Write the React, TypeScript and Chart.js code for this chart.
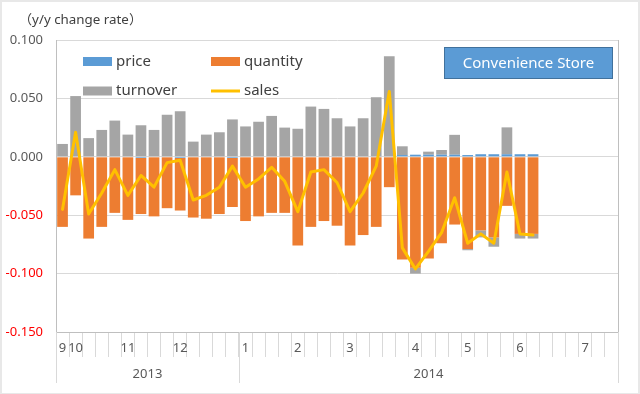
import { useEffect, useRef } from 'react';
import { Chart, registerables } from 'chart.js';

Chart.register(...registerables);

const monthLabels = ['9', '10', '', '', '', '11', '', '', '', '12', '', '', '', '', '1', '', '', '', '2', '', '', '', '3', '', '', '', '', '4', '', '', '', '5', '', '', '', '6', '', '', '', '', '7', '', ''];
const yearLabels = ['2013', '2014'];
const yearSpans = [14, 29];

const price = [0, 0, 0, 0, 0, 0, -0.001, 0, 0, -0.001, 0, 0, 0, -0.001, 0, 0, 0, 0, 0, 0, 0, 0, 0, 0, 0, 0, 0.0015, 0.0018, 0.0018, 0.0018, 0.0018, 0.0015, 0.0022, 0.0022, 0.0022, 0.0022, 0.0022, null, null, null, null, null, null];
const quantity = [-0.060, -0.033, -0.070, -0.060, -0.048, -0.054, -0.048, -0.051, -0.044, -0.045, -0.052, -0.053, -0.049, -0.042, -0.055, -0.051, -0.048, -0.048, -0.076, -0.060, -0.055, -0.059, -0.076, -0.067, -0.060, -0.026, -0.088, -0.095, -0.087, -0.074, -0.058, -0.079, -0.063, -0.069, -0.042, -0.066, -0.066, null, null, null, null, null, null];
const turnover = [0.011, 0.052, 0.016, 0.023, 0.031, 0.019, 0.027, 0.023, 0.036, 0.039, 0.013, 0.019, 0.021, 0.032, 0.026, 0.030, 0.035, 0.025, 0.024, 0.043, 0.041, 0.033, 0.026, 0.033, 0.051, 0.086, 0.0075, -0.005, 0.0026, 0.004, 0.017, -0.001, -0.006, -0.008, 0.023, -0.004, -0.004, null, null, null, null, null, null];
const sales = [-0.045, 0.021, -0.049, -0.031, -0.011, -0.033, -0.016, -0.026, -0.005, -0.003, -0.037, -0.033, -0.026, -0.008, -0.026, -0.019, -0.009, -0.021, -0.047, -0.013, -0.011, -0.022, -0.047, -0.031, -0.008, 0.056, -0.078, -0.096, -0.081, -0.065, -0.035, -0.074, -0.066, -0.074, -0.013, -0.066, -0.067, null, null, null, null, null, null];

const seriesNames = ['price', 'quantity', 'turnover', 'sales'];
const seriesColors = ['#5B9BD5', '#ED7D31', '#A5A5A5', '#FFC000'];
const titleText = '（y/y change rate）';
const boxText = 'Convenience Store';

const FONT = '"Noto Sans", "Noto Sans CJK JP", sans-serif';

const decorPlugin = {
  id: 'decor',
  beforeDraw(chart: any) {
    const { ctx, width, height } = chart;
    ctx.save();
    ctx.fillStyle = '#E8E8E8';
    ctx.fillRect(0, 0, width, height);
    ctx.fillStyle = '#FFFFFF';
    ctx.fillRect(2, 2, width - 4, height - 3);
    ctx.restore();
  },
  afterDraw(chart: any) {
    const { ctx, chartArea } = chart;
    const { left, right, top, bottom } = chartArea;
    ctx.save();
    // right border
    ctx.strokeStyle = '#BFBFBF';
    ctx.lineWidth = 1;
    ctx.beginPath();
    ctx.moveTo(Math.round(right) + 0.5, top);
    ctx.lineTo(Math.round(right) + 0.5, bottom);
    ctx.stroke();

    // year separators and labels
    const total = monthLabels.length;
    const cw = (right - left) / total;
    let start = 0;
    const bounds: number[] = [0];
    yearSpans.forEach((s) => { start += s; bounds.push(start); });
    ctx.strokeStyle = '#D9D9D9';
    bounds.forEach((b) => {
      const x = Math.round(left + b * cw) + 0.5;
      ctx.beginPath();
      ctx.moveTo(x, bottom);
      ctx.lineTo(x, bottom + 51);
      ctx.stroke();
    });
    ctx.fillStyle = '#595959';
    ctx.font = `13px ${FONT}`;
    ctx.textAlign = 'center';
    ctx.textBaseline = 'middle';
    yearLabels.forEach((lab, i) => {
      const cx = left + ((bounds[i] + bounds[i + 1]) / 2) * cw;
      ctx.fillText(lab, cx, bottom + 42);
    });

    // title: align ink to span 28..133
    ctx.textAlign = 'left';
    ctx.font = `13px ${FONT}`;
    ctx.fillStyle = '#404040';
    const m = ctx.measureText(titleText);
    const inkW = m.actualBoundingBoxLeft + m.actualBoundingBoxRight;
    const sx = inkW > 0 ? 105 / inkW : 1;
    ctx.save();
    ctx.translate(28, 20);
    ctx.scale(sx, 1);
    ctx.fillText(titleText, m.actualBoundingBoxLeft, 0);
    ctx.restore();

    // legend
    ctx.font = `15px ${FONT}`;
    const items = [
      { x: 83, y: 61.5 },
      { x: 211, y: 61.5 },
      { x: 83, y: 91 },
      { x: 211, y: 91 },
    ];
    items.forEach((it, i) => {
      ctx.fillStyle = seriesColors[i];
      if (i === 3) {
        ctx.strokeStyle = seriesColors[i];
        ctx.lineWidth = 3;
        ctx.beginPath();
        ctx.moveTo(it.x, it.y);
        ctx.lineTo(it.x + 29, it.y);
        ctx.stroke();
      } else {
        ctx.fillRect(it.x, it.y - 4.5, 29, 9);
      }
      ctx.fillStyle = '#404040';
      ctx.fillText(seriesNames[i], it.x + 33, it.y);
    });

    // store box
    ctx.fillStyle = '#5B9BD5';
    ctx.fillRect(444, 47, 169, 32);
    ctx.strokeStyle = '#41719C';
    ctx.lineWidth = 1;
    ctx.strokeRect(444.5, 47.5, 168, 31);
    ctx.fillStyle = '#FFFFFF';
    ctx.font = `15px ${FONT}`;
    ctx.textAlign = 'center';
    ctx.fillText(boxText, 528.5, 63.5);
    ctx.restore();
  },
};

export default function App() {
  const ref = useRef<HTMLCanvasElement>(null);
  useEffect(() => {
    document.body.style.margin = '0';
    const canvas = ref.current!;
    const chart = new Chart(canvas, {
      type: 'bar',
      data: {
        labels: monthLabels,
        datasets: [
          { type: 'bar', label: seriesNames[0], data: price, backgroundColor: seriesColors[0], stack: 'bars', order: 1 },
          { type: 'bar', label: seriesNames[1], data: quantity, backgroundColor: seriesColors[1], stack: 'bars', order: 1 },
          { type: 'bar', label: seriesNames[2], data: turnover, backgroundColor: seriesColors[2], stack: 'bars', order: 1 },
          { type: 'line', label: seriesNames[3], data: sales, borderColor: seriesColors[3], backgroundColor: seriesColors[3], borderWidth: 3, borderJoinStyle: 'round', borderCapStyle: 'round', pointRadius: 0, tension: 0, stack: 'sales', order: 0 } as any,
        ],
      },
      options: {
        responsive: false,
        animation: false,
        devicePixelRatio: 1,
        layout: { padding: { top: 40, right: 22, left: 0, bottom: 0 } },
        datasets: { bar: { barPercentage: 0.82, categoryPercentage: 1 } },
        plugins: { legend: { display: false }, tooltip: { enabled: false }, title: { display: false } },
        scales: {
          x: {
            stacked: true,
            offset: true,
            grid: { offset: true, drawOnChartArea: false, drawTicks: true, tickLength: 25, color: '#D9D9D9' },
            border: { color: '#BFBFBF' },
            ticks: { autoSkip: false, maxRotation: 0, minRotation: 0, padding: -17, color: '#595959', font: { size: 13, family: FONT } },
            afterFit: (s: any) => { s.height = 62; },
          },
          y: {
            stacked: true,
            min: -0.15,
            max: 0.1,
            grid: { drawTicks: false, color: '#D9D9D9' },
            border: { color: '#BFBFBF' },
            ticks: {
              stepSize: 0.05,
              padding: 13,
              font: { size: 13, family: FONT },
              color: (c: any) => (c.tick && c.tick.value < -1e-9 ? '#FF0000' : '#595959'),
              callback: (v: any) => Number(v).toFixed(3),
            },
            afterFit: (s: any) => { s.width = 56; },
          },
        },
      },
      plugins: [decorPlugin],
    });
    return () => chart.destroy();
  }, []);
  return <canvas ref={ref} width={640} height={394} style={{ display: 'block', width: 640, height: 394 }} />;
}
